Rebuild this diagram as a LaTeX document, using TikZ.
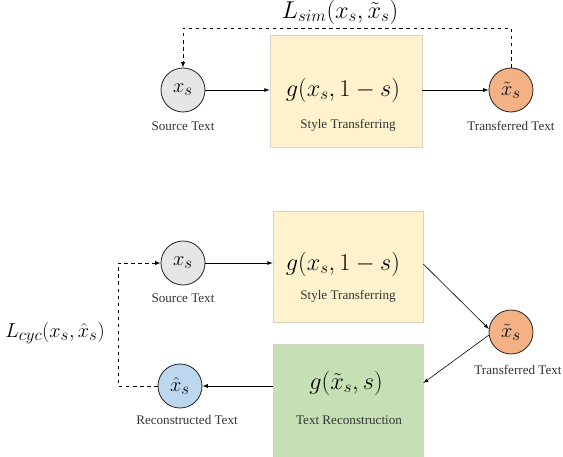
\documentclass[tikz,border=0pt]{standalone}
\usepackage{amsmath}
\usepackage{fontspec}
\setmainfont{Liberation Serif}
\usepackage{xcolor}
\definecolor{srcgray}{HTML}{E7E6E6}
\definecolor{tgtorange}{HTML}{F4B183}
\definecolor{recblue}{HTML}{BDD7EE}
\definecolor{styleyellow}{HTML}{FFF2CC}
\definecolor{recgreen}{HTML}{C5E0B4}
\definecolor{boxedge}{HTML}{D6D3C4}

\begin{document}
\begin{tikzpicture}[x=0.03cm, y=-0.03cm, >=latex,
  state/.style={circle, draw=black!85, line width=0.7pt, minimum size=1.32cm, inner sep=0pt, font=\fontsize{19}{21}\selectfont},
  box/.style={draw=boxedge, line width=0.5pt, inner sep=0pt},
  mathtxt/.style={font=\fontsize{19.5}{22}\selectfont},
  lbl/.style={font=\fontsize{11.2}{13}\selectfont, text=black!80}]
\useasboundingbox (0,0) rectangle (563,457);

% forward transfer
\begin{scope}
\node[box, fill=styleyellow, minimum width=4.56cm, minimum height=3.36cm] (st1) at (346,91) {};
\node[mathtxt] (g1) at (343,90) {$g(x_s,1-s)$};
\node[lbl] (st1lbl) at (348,125) {Style Transferring};
\node[state, fill=srcgray] (src1) at (183,90) {$x_s$};
\node[lbl] (src1lbl) at (183,126) {Source Text};
\node[state, fill=tgtorange] (tgt1) at (511,90) {$\tilde{x}_s$};
\node[lbl] (tgt1lbl) at (511,126) {Transferred Text};
\node[mathtxt] (lsim) at (340,12) {$L_{sim}(x_s,\tilde{x}_s)$};
\coordinate (simtop) at (0,28);
% flows
\draw[->, line width=0.6pt] (src1.east) -- (src1.east -| st1.west);
\draw[->, line width=0.6pt] (tgt1.west -| st1.east) -- (tgt1.west);
\draw[->, dashed, line width=0.6pt] (tgt1.north) -- (tgt1 |- simtop) -- (src1 |- simtop) -- (src1.north);
\end{scope}

% cycle reconstruction
\begin{scope}
\node[box, fill=styleyellow, minimum width=4.5cm, minimum height=3.33cm] (st2) at (348,266.5) {};
\node[mathtxt] (g2) at (343,264) {$g(x_s,1-s)$};
\node[lbl] (st2lbl) at (348,296) {Style Transferring};
\node[box, fill=recgreen, minimum width=4.5cm, minimum height=3.39cm] (rc) at (348,400.5) {};
\node[mathtxt] (g3) at (346,383) {$g(\tilde{x}_s,s)$};
\node[lbl] (rclbl) at (349,420) {Text Reconstruction};
\node[state, fill=srcgray] (src2) at (183,263) {$x_s$};
\node[lbl] (src2lbl) at (183,298) {Source Text};
\node[state, fill=tgtorange] (tgt2) at (511,332) {$\tilde{x}_s$};
\node[lbl] (tgt2lbl) at (518,370) {Transferred Text};
\node[state, fill=recblue] (rec) at (180,386) {$\hat{x}_s$};
\node[lbl] (reclbl) at (187,420) {Reconstructed Text};
\node[mathtxt, font=\fontsize{19}{21}\selectfont] (lcyc) at (55,333) {$L_{cyc}(x_s,\hat{x}_s)$};
\coordinate (cycleft) at (118,0);
% flows
\draw[->, line width=0.6pt] (src2.east) -- (src2.east -| st2.west);
\draw[->, line width=0.5pt] (st2.east |- g2) -- (tgt2.172);
\draw[->, line width=0.5pt] (tgt2.188) -- (rc.east |- g3);
\draw[->, line width=0.6pt] (rc.west |- rec) -- (rec.east);
\draw[->, dashed, line width=0.6pt] (rec.west) -- (rec -| cycleft) -- (src2 -| cycleft) -- (src2.west);
\end{scope}
\end{tikzpicture}
\end{document}
